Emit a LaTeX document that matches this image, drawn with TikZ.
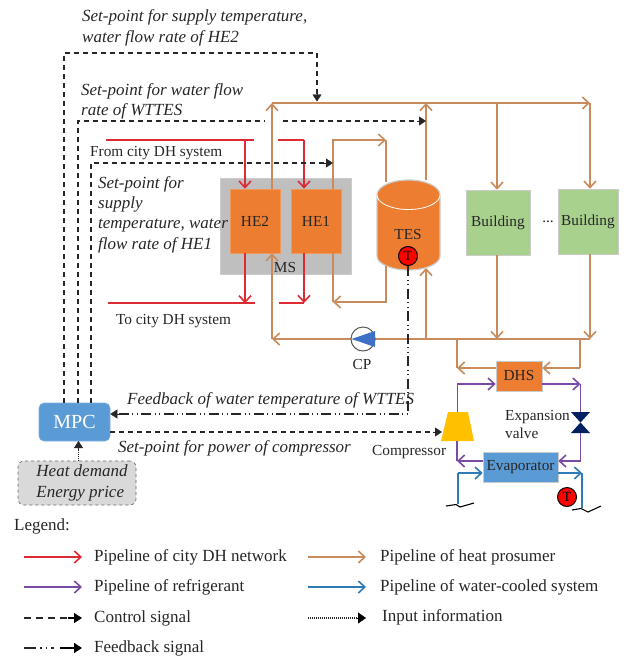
\documentclass[tikz,border=0pt]{standalone}
\usepackage{fontspec}
\setmainfont{Liberation Serif}
\usetikzlibrary{arrows.meta,calc}
\definecolor{cred}{HTML}{DE2A33}
\definecolor{cbrown}{HTML}{C98A5C}
\definecolor{cpurple}{HTML}{7B4BA3}
\definecolor{cblue}{HTML}{2E7CB6}
\definecolor{corange}{HTML}{ED7D31}
\definecolor{cgreen}{HTML}{A9D18E}
\definecolor{cgray}{HTML}{BFBFBF}
\definecolor{cmpc}{HTML}{5B9BD5}
\definecolor{cyellow}{HTML}{FFC000}
\definecolor{cnavy}{HTML}{002060}
\definecolor{ctext}{HTML}{262626}
\definecolor{cpump}{HTML}{3F70C8}
\tikzset{
  pipetip/.style={-{Straight Barb[length=6.5pt,width=12pt,line width=1.6pt]}},
  redpipe/.style={draw=cred,line width=1.5pt},
  brownpipe/.style={draw=cbrown,line width=2pt},
  purplepipe/.style={draw=cpurple,line width=1.7pt},
  bluepipe/.style={draw=cblue,line width=1.7pt},
  ctrl/.style={draw=black!85,line width=1.1pt,dash pattern=on 5pt off 4pt},
  fback/.style={draw=black!85,line width=1.1pt,dash pattern=on 10pt off 3.5pt on 1pt off 3.5pt on 1pt off 3.5pt},
  inputline/.style={draw=black!85,line width=1.1pt,dash pattern=on 1pt off 1pt},
  solidtip/.style={-{Triangle[length=7pt,width=9pt]}},
  box/.style={draw=black!20,line width=.6pt,inner sep=0pt,text=ctext,font=\fontsize{15.3}{17}\selectfont},
  itxt/.style={anchor=west,inner sep=0pt,align=left,text=ctext,font=\fontsize{17}{20.4}\selectfont\itshape},
  ptxt/.style={anchor=west,inner sep=0pt,align=left,text=ctext,font=\fontsize{15.3}{18}\selectfont},
  ltxt/.style={anchor=west,inner sep=0pt,text=black!85,font=\fontsize{17}{20}\selectfont},
  sensor/.style={circle,draw=black,fill=red,line width=1pt,minimum size=19pt,inner sep=0pt,font=\fontsize{14}{15}\selectfont},
}
\begin{document}
\begin{tikzpicture}[x=1pt,y=-1pt]
\useasboundingbox (0,0) rectangle (628,659);
% Boxes
\node[box,fill=cgray,minimum width=131pt,minimum height=96pt] (ms) at (285.5,226) {};
\node[box,fill=corange,draw=corange!80!white,minimum width=50pt,minimum height=64pt] (he2) at (255,221) {HE2};
\node[box,fill=corange,draw=corange!80!white,minimum width=50pt,minimum height=64pt] (he1) at (316,221) {HE1};
\node[box,fill=cgreen,minimum width=64pt,minimum height=65pt] (b1) at (498,222.5) {Building};
\node[box,fill=cgreen,minimum width=60pt,minimum height=65pt] (b2) at (588,221.5) {Building};
\node[box,fill=corange,minimum width=46pt,minimum height=30pt] (dhs) at (519,376) {DHS};
\node[box,fill=cmpc,minimum width=75pt,minimum height=30pt] (evap) at (520.5,467) {Evaporator};
\node[box,rounded corners=5pt,fill=cmpc,draw=cmpc!80!white,minimum width=71pt,minimum height=38pt,text=white,font=\fontsize{20}{22}\selectfont] (mpc) at (74.5,422) {MPC};
\node[box,rounded corners=6pt,fill=black!15,draw=black!60,dashed,minimum width=118pt,minimum height=44pt,align=left,font=\fontsize{17}{21}\selectfont\itshape] (info) at (77,483) {\hspace*{10pt}Heat demand\\\hspace*{10pt}Energy price};
% TES cylinder
\path[fill=corange,draw=black!20,line width=1.2pt] (377,195) arc[start angle=180,end angle=360,x radius=31.5,y radius=15] -- (440,256) arc[start angle=0,end angle=180,x radius=31.5,y radius=14] -- cycle;
\draw[white,line width=.8pt] (377,195) arc[start angle=180,end angle=0,x radius=31.5,y radius=14.5];
\node[inner sep=0pt,text=ctext,font=\fontsize{15.3}{17}\selectfont] (tes) at (408,235) {TES};
\coordinate (testopl) at (386,182);
\coordinate (testopr) at (426,180);
\coordinate (tesbotl) at (386,266);
\coordinate (tesbotr) at (426,268);
\node[sensor] (t1) at (408,256) {T};
\node[sensor] (t2) at (567,497) {T};
% junctions
\coordinate (tl) at (272,103);
\coordinate (tr) at (590,103);
\coordinate (bl) at (272,339);
\coordinate (br) at (590,339);
\coordinate (hotc) at (333,140);
\coordinate (coldc) at (333,302);
% Red pipes
\coordinate (ra) at (106,140); \coordinate (rb) at (254,140); \coordinate (rc) at (278,140); \coordinate (rd) at (304,140);
\coordinate (re) at (108,303); \coordinate (rf) at (255,303); \coordinate (rg) at (279,303); \coordinate (rh) at (304,303);
\draw[redpipe] (ra) -- (rb);
\draw[redpipe,pipetip] (ra -| he2.north) ++(-10,0) -- ([xshift=-10pt]he2.north);
\draw[redpipe] (rc) -- (rd);
\draw[redpipe,pipetip] (rd) -- (rd |- he1.north);
\draw[redpipe] (re) -- (rf);
\draw[redpipe,pipetip] ([xshift=-10pt]he2.south) -- ++(0,50);
\draw[redpipe] (rg) -- (rh);
\draw[redpipe,pipetip] (rh |- he1.south) -- (rh);
% Brown pipes
\draw[brownpipe,pipetip] (he2.north -| tl) -- (tl);
\draw[brownpipe,pipetip] (tl) -- (tr);
\draw[brownpipe,pipetip] (testopr) -- (testopr |- tl);
\draw[brownpipe,pipetip] (tr) -- (tr |- b2.north);
\draw[brownpipe,pipetip] (b1.north |- tl) ++(-1,0) -- ([xshift=-1pt]b1.north);
\draw[brownpipe,pipetip] (he1.north -| hotc) -- (hotc) -- (testopl |- hotc);
\draw[brownpipe] (testopl |- hotc) -- (testopl);
\draw[brownpipe,pipetip] (tesbotl) -- (tesbotl |- coldc) -- (coldc);
\draw[brownpipe] (coldc) -- (he1.south -| coldc);
\draw[brownpipe,pipetip] ([xshift=-1pt]b1.south) -- ([xshift=-1pt]b1.south |- br);
\draw[brownpipe,pipetip] (tr |- b2.south) -- (br);
\draw[brownpipe,pipetip] (br) -- (bl);
\draw[brownpipe,pipetip] (bl) -- (he2.south -| bl);
\draw[brownpipe,pipetip] (tesbotr |- br) -- (tesbotr);
% CP
\node[circle,draw=black!65,fill=white,line width=1pt,minimum size=24pt,inner sep=0pt] (cp) at (363,339) {};
\fill[cpump] (351.5,339) -- (375,331) -- (375,347) -- cycle;
\node[ptxt,anchor=center] (cplabel) at (362,365) {CP};
% DHS loop
\coordinate (dl) at (457,368); \coordinate (dr) at (580,368);
\draw[brownpipe,pipetip] (dhs.west |- dl) -- (dl);
\draw[brownpipe] (dl) -- (dl |- br);
\draw[brownpipe] (dr |- br) -- (dr);
\draw[brownpipe,pipetip] (dr) -- (dhs.east |- dr);
% Compressor and valve
\path[fill=cyellow] (448,412) coordinate (cptl) -- (468,412) -- (474,441) -- (441,441) -- cycle;
\node[inner sep=0pt,minimum width=1pt,minimum height=1pt] (comp) at (457.5,426.5) {};
\fill[cnavy] (571,412) -- (590,412) -- (580.5,422.5) -- (590,433) -- (571,433) -- (580.5,422.5) -- cycle;
\coordinate (valvetop) at (580.5,412);
\coordinate (valvebot) at (580.5,433);
\coordinate (pa) at (457,384); \coordinate (pb) at (580.5,384); \coordinate (pc) at (580.5,461); \coordinate (pd) at (457,461);
\draw[purplepipe] (comp.center |- cptl) -- (comp.center |- pa);
\draw[purplepipe,pipetip] (pa) -- (dhs.west |- pa);
\draw[purplepipe,pipetip] (dhs.east |- pa) -- (pb);
\draw[purplepipe] (pb) -- (valvetop);
\draw[purplepipe] (valvebot) -- (pc);
\draw[purplepipe,pipetip] (pc) -- (evap.east |- pc);
\draw[purplepipe,pipetip] (evap.west |- pc) -- (pd);
\draw[purplepipe] (pd) -- (457,441);
% Water-cooled
\coordinate (wa) at (458,473); \coordinate (wb) at (458,504); \coordinate (wc) at (582,473); \coordinate (wd) at (582,508);
\draw[bluepipe] (wb) -- (wa);
\draw[bluepipe,pipetip] (wa) -- (evap.west |- wa);
\draw[bluepipe,pipetip] (evap.east |- wa) -- (wc);
\draw[bluepipe] (wc) -- (wd);
\draw[black,line width=1.1pt] (446,506) -- (456,504.5) -- (460,507) -- (474,503);
\draw[black,line width=1.1pt] (572,510) -- (581,508.5) -- (588,512) -- (601,506);
% Control signals
\coordinate (c1) at (64,53); \coordinate (c2) at (317,53); \coordinate (c3) at (78,121); \coordinate (c4) at (265,121); \coordinate (c5) at (283,121); \coordinate (c6) at (426,121); \coordinate (c7) at (91,163); \coordinate (c8) at (333,163);
\draw[ctrl] (c1 |- mpc.north) -- (c1) -- (c2) -- (317,95);
\draw[black!85,solidtip] (317,93) -- (317,101.5);
\draw[ctrl] (c3 |- mpc.north) -- (c3) -- (c4);
\draw[ctrl] (c5) -- (418,121);
\draw[black!85,solidtip] (417,121) -- (c6);
\draw[ctrl] (c7 |- mpc.north) -- (c7) -- (325,163);
\draw[black!85,solidtip] (324,163) -- (c8);
\coordinate (compin) at (442,432);
\draw[ctrl] (mpc.east |- compin) -- (434,432);
\draw[black!85,solidtip] (433,432) -- (compin);
% Feedback
\coordinate (fb) at (408,414);
\draw[fback] (t1.south) -- (fb) -- (118,414);
\draw[black!85,solidtip] (119,414) -- (mpc.east |- fb);
% Input
\draw[inputline] (info.north -| mpc.center) ++(4,0) -- (78.5,449);
\draw[black!85,solidtip] (78.5,450) -- (78.5,441);
% Texts
\node[itxt] (s1) at (82,28) {Set-point for supply temperature,\\water flow rate of HE2};
\node[itxt] (s2) at (81,101.5) {Set-point for water flow\\rate of WTTES};
\node[ptxt] (s3) at (90,153) {From city DH system};
\node[itxt] (s4) at (98,214.5) {Set-point for\\supply\\temperature, water\\flow rate of HE1};
\node[ptxt,anchor=center] (s5) at (285,268) {MS};
\node[ptxt] (s6) at (116,321) {To city DH system};
\node[itxt] (s7) at (127,400) {Feedback of water temperature of WTTES};
\node[itxt] (s8) at (118,448) {Set-point for power of compressor};
\node[ptxt] (s9) at (372,452) {Compressor};
\node[ptxt] (s10) at (505,425) {Expansion\\valve};
\node[ptxt,anchor=center] (s11) at (548,222) {...};
% Legend
\node[ltxt] (lg) at (14,526) {Legend:};
\coordinate (l1a) at (24,557); \coordinate (l1b) at (82,557);
\coordinate (l2a) at (24,587); \coordinate (l2b) at (82,587);
\coordinate (l3a) at (24,618); \coordinate (l3b) at (82,618);
\coordinate (l4a) at (24,648); \coordinate (l4b) at (82,648);
\coordinate (r1a) at (308,557); \coordinate (r1b) at (366,557);
\coordinate (r2a) at (308,587); \coordinate (r2b) at (366,587);
\coordinate (r3a) at (308,618); \coordinate (r3b) at (366,618);
\draw[redpipe,pipetip] (l1a) -- (l1b);
\draw[purplepipe,pipetip] (l2a) -- (l2b);
\draw[ctrl,line width=1.4pt,dash pattern=on 7pt off 5pt] (l3a) -- (68,618);
\draw[black,line width=1.4pt,-{Triangle[length=8pt,width=10pt]}] (68,618) -- (l3b);
\draw[fback,line width=1.4pt,dash pattern=on 12pt off 4pt on 1.5pt off 4pt on 1.5pt off 4pt] (l4a) -- (54,648);
\draw[black,line width=1.4pt,-{Triangle[length=8pt,width=10pt]}] (60,648) -- (l4b);
\draw[brownpipe,pipetip] (r1a) -- (r1b);
\draw[bluepipe,pipetip] (r2a) -- (r2b);
\draw[inputline] (r3a) -- (358,618);
\draw[black,-{Triangle[length=8pt,width=11pt]}] (357,618) -- (r3b);
\node[ltxt] at (94,557) {Pipeline of city DH network};
\node[ltxt] at (94,587) {Pipeline of refrigerant};
\node[ltxt] at (94,618) {Control signal};
\node[ltxt] at (94,648) {Feedback signal};
\node[ltxt] at (380,557) {Pipeline of heat prosumer};
\node[ltxt] at (380,587) {Pipeline of water-cooled system};
\node[ltxt] at (382,617) {Input information};
\end{tikzpicture}
\end{document}
